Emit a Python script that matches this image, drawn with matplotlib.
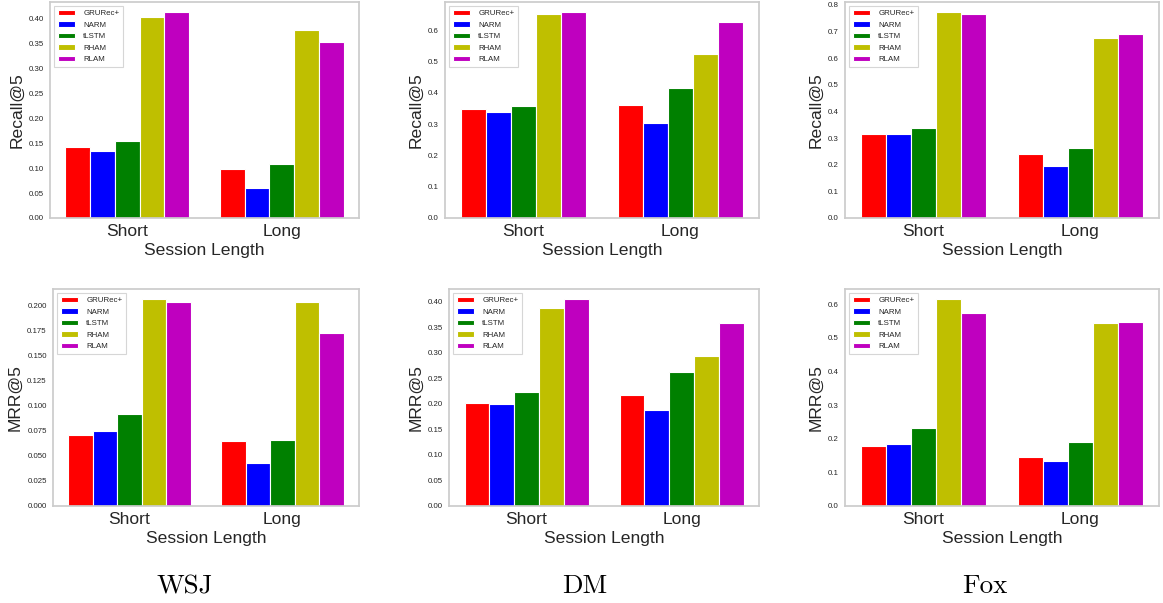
import matplotlib
matplotlib.use("Agg")
import matplotlib.pyplot as plt
import numpy as np

# Session-length groups and models
groups = ["Short", "Long"]
models = ["GRURec+", "NARM", "tLSTM", "RHAM", "RLAM"]
colors = ["r", "b", "g", "y", "m"]

# Recall@5 per dataset: rows = models, columns = (Short, Long)
wsj_recall = [[0.142, 0.098], [0.134, 0.060], [0.154, 0.108], [0.403, 0.376], [0.412, 0.352]]
dm_recall = [[0.349, 0.360], [0.340, 0.302], [0.359, 0.414], [0.650, 0.523], [0.657, 0.627]]
fox_recall = [[0.315, 0.241], [0.315, 0.194], [0.339, 0.263], [0.772, 0.676], [0.764, 0.690]]

# MRR@5 per dataset
wsj_mrr = [[0.0709, 0.0645], [0.0753, 0.0428], [0.0923, 0.0662], [0.2064, 0.2037], [0.2033, 0.1732]]
dm_mrr = [[0.201, 0.218], [0.200, 0.188], [0.224, 0.262], [0.388, 0.293], [0.405, 0.359]]
fox_mrr = [[0.179, 0.146], [0.185, 0.135], [0.231, 0.191], [0.614, 0.544], [0.574, 0.547]]

datasets = ["WSJ", "DM", "Fox"]
recall_tick_steps = [0.05, 0.1, 0.1]
mrr_tick_steps = [0.025, 0.05, 0.1]

W, H = 1163, 603
fig = plt.figure(figsize=(W / 100, H / 100), dpi=100)
plt.rcParams["font.family"] = ["Liberation Sans", "DejaVu Sans"]

text_col = "0.15"
spine_col = "0.8"


def axes_px(left, right, top, bottom):
    return fig.add_axes([left / W, 1 - bottom / H, (right - left) / W, (bottom - top) / H])


def draw_panel(ax, values, ylabel, step):
    x = np.arange(len(groups))
    n = len(models)
    width = 0.8 / n
    for i, (name, col) in enumerate(zip(models, colors)):
        offs = (i - (n - 1) / 2) * width
        ax.bar(x + offs, values[i], width, color=col, label=name,
               edgecolor="white", linewidth=0.8)
    ax.set_xlim(-0.5, len(groups) - 0.5)
    ax.set_xticks(x)
    ax.set_xticklabels(groups, fontsize=12.6, color=text_col)
    ax.yaxis.set_major_locator(matplotlib.ticker.MultipleLocator(step))
    ax.tick_params(axis="both", length=0)
    ax.tick_params(axis="y", labelsize=5.7, labelcolor=text_col, pad=4.5)
    ax.tick_params(axis="x", pad=4.5)
    ax.set_xlabel("Session Length", fontsize=12.6, color=text_col, labelpad=2.5)
    ax.set_ylabel(ylabel, fontsize=12.6, color=text_col, labelpad=3)
    for s in ax.spines.values():
        s.set_color(spine_col)
        s.set_linewidth(1.25)
    leg = ax.legend(loc="upper left", fontsize=5.7, frameon=True, fancybox=False,
                    borderpad=0.5, labelspacing=0.5, handlelength=2.2,
                    handletextpad=1.0, borderaxespad=0.5)
    leg.get_frame().set_edgecolor("0.8")
    leg.get_frame().set_linewidth(0.8)
    for t in leg.get_texts():
        t.set_color(text_col)


top_rects = [(50, 359), (445, 759), (845, 1159)]
bot_rects = [(53, 359), (449, 759), (845, 1159)]
recalls = [wsj_recall, dm_recall, fox_recall]
mrrs = [wsj_mrr, dm_mrr, fox_mrr]

for j in range(3):
    ax = axes_px(top_rects[j][0], top_rects[j][1], 2, 218)
    draw_panel(ax, recalls[j], "Recall@5", recall_tick_steps[j])
    ax = axes_px(bot_rects[j][0], bot_rects[j][1], 289, 506)
    draw_panel(ax, mrrs[j], "MRR@5", mrr_tick_steps[j])

caption_x = [185, 585, 985]
for name, cx in zip(datasets, caption_x):
    fig.text(cx / W, 1 - 593 / H, name, family="cmr10", fontsize=19.4,
             ha="center", va="baseline", color="black")

fig.savefig("out.png", dpi=100, facecolor="white")
